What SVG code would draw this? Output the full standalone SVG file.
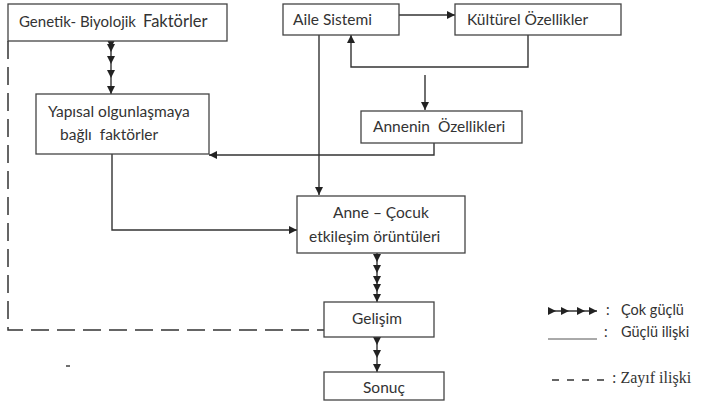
<svg xmlns="http://www.w3.org/2000/svg" width="702" height="403" viewBox="0 0 702 403">
<defs>
<style>
.box{fill:#fff;stroke:#444;stroke-width:1.3}
.t{font-family:Lato,"Open Sans","Liberation Sans",sans-serif;font-size:15.5px;fill:#333}
.lg{font-family:Lato,"Open Sans","Liberation Sans",sans-serif;font-size:14.5px;fill:#333}
.big{font-size:16.5px}
.ln{fill:none;stroke:#333;stroke-width:1.4}
.dash{fill:none;stroke:#333;stroke-width:1.5;stroke-dasharray:18 8}
</style>
<marker id="ah" viewBox="0 0 10 10" refX="10" refY="5" markerWidth="8" markerHeight="8" markerUnits="userSpaceOnUse" orient="auto">
<path d="M0,0 L10,5 L0,10 z" fill="#222"/>
</marker>
</defs>
<rect width="702" height="403" fill="#fff"/>

<g id="connectors">
<path class="ln" d="M399,15 H455" marker-end="url(#ah)"/>
<path class="ln" d="M528,35 V67 H351 V35" marker-end="url(#ah)"/>
<path class="ln" d="M425,75 V110" marker-end="url(#ah)"/>
<path class="ln" d="M434,143 V155 H209" marker-end="url(#ah)"/>
<path class="ln" d="M319,35 V195" marker-end="url(#ah)"/>
<path class="ln" d="M112,154 V230 H297" marker-end="url(#ah)"/>
<polyline class="ln" points="111,41 111,48 111,52 111,64 111,78 111,94" marker-mid="url(#ah)" marker-end="url(#ah)"/>
<polyline class="ln" points="377,253 377,262 377,273 377,284 377,292 377,302" marker-mid="url(#ah)" marker-end="url(#ah)"/>
<polyline class="ln" points="377,337 377,345 377,358 377,372" marker-mid="url(#ah)" marker-end="url(#ah)"/>
<path class="dash" d="M8,41 V330 H324"/>
<path class="ln" d="M66,366 H70"/>
</g>

<g id="genetik">
<rect class="box" x="8" y="4" width="219" height="37"/>
<text class="t" x="19" y="27" style="font-size:15px">Genetik- Biyolojik <tspan class="big" x="143">Faktörler</tspan></text>
</g>
<g id="aile">
<rect class="box" x="283" y="4" width="116" height="31"/>
<text class="t" x="293" y="25">Aile Sistemi</text>
</g>
<g id="kulturel">
<rect class="box" x="455" y="4" width="166" height="31"/>
<text class="t" x="467" y="25">Kültürel Özellikler</text>
</g>
<g id="yapisal">
<rect class="box" x="36" y="94" width="173" height="60"/>
<text class="t" x="48" y="117">Yapısal olgunlaşmaya</text>
<text class="t" x="60" y="140" xml:space="preserve">bağlı  faktörler</text>
</g>
<g id="annenin">
<rect class="box" x="361" y="111" width="161" height="32"/>
<text class="t" x="373" y="132" xml:space="preserve">Annenin  Özellikleri</text>
</g>
<g id="anne-cocuk">
<rect class="box" x="297" y="196" width="168" height="57"/>
<text class="t" x="333" y="218">Anne – Çocuk</text>
<text class="t" x="309" y="242">etkileşim örüntüleri</text>
</g>
<g id="gelisim">
<rect class="box" x="324" y="302" width="110" height="35"/>
<text class="t" x="352" y="324">Gelişim</text>
</g>
<g id="sonuc">
<rect class="box" x="324" y="372" width="120" height="28"/>
<text class="t" x="363" y="393">Sonuç</text>
</g>

<g id="legend">
<polyline class="ln" points="549,311 556,311 569,311 585,311 597,311" marker-mid="url(#ah)" marker-end="url(#ah)"/>
<text class="lg" x="606" y="315">:</text>
<text class="lg" x="621" y="315">Çok güçlü</text>
<path class="ln" d="M548,339 H597" style="stroke:#555;stroke-width:1"/>
<text class="lg" x="604" y="337">:</text>
<text class="lg" x="621" y="337">Güçlü ilişki</text>
<path class="ln" d="M552,380 H608" style="stroke-dasharray:7 8;stroke-width:1.6"/>
<text x="612" y="383" style="font-family:'Liberation Serif','DejaVu Serif',serif;font-size:16px;fill:#333">: Zayıf ilişki</text>
</g>
</svg>
